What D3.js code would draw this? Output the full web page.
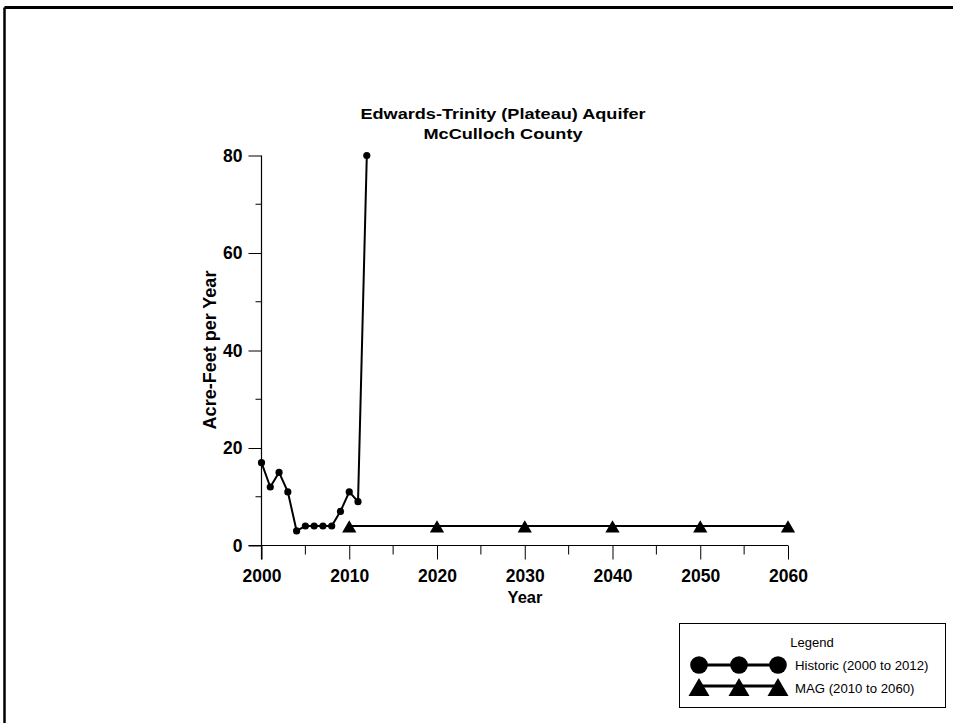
<!DOCTYPE html>
<html>
<head>
<meta charset="utf-8">
<script src="https://cdn.jsdelivr.net/npm/d3@7"></script>
<style>
  body { margin: 0; background: #fff; }
  text { font-family: Arial, "Liberation Sans", sans-serif; }
</style>
</head>
<body>
<svg width="953" height="723"></svg>
<script>
// data
var historicYears = [2000, 2001, 2002, 2003, 2004, 2005, 2006, 2007, 2008, 2009, 2010, 2011, 2012];
var historicValues = [17, 12, 15, 11, 3, 4, 4, 4, 4, 7, 11, 9, 80];
var magYears = [2010, 2020, 2030, 2040, 2050, 2060];
var magValues = [4, 4, 4, 4, 4, 4];
var yTicks = [0, 20, 40, 60, 80];
var yMinor = [10, 30, 50, 70];
var xTicks = [2000, 2010, 2020, 2030, 2040, 2050, 2060];
var xMinor = [2005, 2015, 2025, 2035, 2045, 2055];

var svg = d3.select("svg");

// page frame (top and left edges only)
svg.append("line").attr("x1", 4.5).attr("x2", 953).attr("y1", 7.5).attr("y2", 7.5)
    .style("stroke", "#000").style("stroke-width", 3);
svg.append("line").attr("x1", 4.5).attr("x2", 4.5).attr("y1", 7.5).attr("y2", 723)
    .style("stroke", "#000").style("stroke-width", 2.5);

var x = d3.scaleLinear().domain([2000, 2060]).range([261.5, 788]);
var y = d3.scaleLinear().domain([0, 80]).range([545.5, 155.5]);

// title (the original font is wide, so stretch it sideways)
svg.append("text").attr("transform", "translate(503,119) scale(1.25,1)").attr("text-anchor", "middle")
    .style("font-weight", "bold").style("font-size", "14.5px")
    .text("Edwards-Trinity (Plateau) Aquifer");
svg.append("text").attr("transform", "translate(503,139) scale(1.25,1)").attr("text-anchor", "middle")
    .style("font-weight", "bold").style("font-size", "14.5px")
    .text("McCulloch County");

// axes
var yAxis = d3.axisLeft(y).tickValues(yTicks).tickSize(13).tickPadding(6);
var gy = svg.append("g").attr("transform", "translate(261.5,0)").call(yAxis);
gy.select(".domain").remove();
gy.append("line").attr("x1", 0).attr("x2", 0).attr("y1", y(80)).attr("y2", y(0) + 14)
    .style("stroke", "#000").style("stroke-width", 1.2);
gy.selectAll(".minor").data(yMinor).enter().append("line")
    .attr("x1", -6).attr("x2", 0)
    .attr("y1", function (d) { return y(d); }).attr("y2", function (d) { return y(d); })
    .style("stroke", "#000").style("stroke-width", 1);

var xAxis = d3.axisBottom(x).tickValues(xTicks).tickFormat(d3.format("d")).tickSize(14).tickPadding(10);
var gx = svg.append("g").attr("transform", "translate(0,545.5)").call(xAxis);
gx.select(".domain").remove();
gx.append("line").attr("x1", x(2000) - 13).attr("x2", x(2060)).attr("y1", 0).attr("y2", 0)
    .style("stroke", "#000").style("stroke-width", 1.2);
gx.selectAll(".minor").data(xMinor).enter().append("line")
    .attr("x1", function (d) { return x(d); }).attr("x2", function (d) { return x(d); })
    .attr("y1", 0).attr("y2", 9)
    .style("stroke", "#000").style("stroke-width", 1);

svg.selectAll(".tick text").style("font-weight", "bold").style("font-size", "17.5px")
    .style("font-family", "Arial, 'Liberation Sans', sans-serif");
svg.selectAll(".tick line").style("stroke-width", 1);

svg.append("text").attr("x", 525).attr("y", 603).attr("text-anchor", "middle")
    .style("font-weight", "bold").style("font-size", "16.5px").text("Year");
svg.append("text").attr("transform", "translate(216,350) rotate(-90)").attr("text-anchor", "middle")
    .style("font-weight", "bold").style("font-size", "18px").text("Acre-Feet per Year");

// series
var hist = historicYears.map(function (d, i) { return [d, historicValues[i]]; });
var mag = magYears.map(function (d, i) { return [d, magValues[i]]; });
var line = d3.line().x(function (d) { return x(d[0]); }).y(function (d) { return y(d[1]); });

svg.append("path").attr("d", line(mag))
    .style("fill", "none").style("stroke", "#000").style("stroke-width", 1.8);
svg.append("path").attr("d", line(hist))
    .style("fill", "none").style("stroke", "#000").style("stroke-width", 2);

svg.selectAll(".hpt").data(hist).enter().append("circle")
    .attr("cx", function (d) { return x(d[0]); })
    .attr("cy", function (d) { return y(d[1]); })
    .attr("r", 3.6).style("fill", "#000");

var tri = d3.symbol().type(d3.symbolTriangle).size(88);
svg.selectAll(".mpt").data(mag).enter().append("path")
    .attr("d", tri)
    .attr("transform", function (d) { return "translate(" + x(d[0]) + "," + (y(d[1]) + 2.5) + ")"; })
    .style("fill", "#000");

// legend
var lg = svg.append("g");
lg.append("rect").attr("x", 679.5).attr("y", 623.5).attr("width", 266).attr("height", 84)
    .style("fill", "#fff").style("stroke", "#000").style("stroke-width", 1);
lg.append("text").attr("x", 812).attr("y", 647).attr("text-anchor", "middle")
    .style("font-size", "13px").text("Legend");
var lx = [699, 739, 778];
lg.append("line").attr("x1", lx[0]).attr("x2", lx[2]).attr("y1", 665).attr("y2", 665)
    .style("stroke", "#000").style("stroke-width", 3);
lg.selectAll(".lc").data(lx).enter().append("circle")
    .attr("cx", function (d) { return d; }).attr("cy", 665).attr("r", 8.8).style("fill", "#000");
lg.append("line").attr("x1", lx[0]).attr("x2", lx[2]).attr("y1", 686).attr("y2", 686)
    .style("stroke", "#000").style("stroke-width", 3);
var bigTri = d3.symbol().type(d3.symbolTriangle).size(190);
lg.selectAll(".lt").data(lx).enter().append("path")
    .attr("d", bigTri)
    .attr("transform", function (d) { return "translate(" + d + ",690)"; })
    .style("fill", "#000");
lg.append("text").attr("x", 795).attr("y", 670).style("font-size", "13.2px").text("Historic (2000 to 2012)");
lg.append("text").attr("x", 795).attr("y", 693).style("font-size", "13.2px").text("MAG (2010 to 2060)");
</script>
</body>
</html>
